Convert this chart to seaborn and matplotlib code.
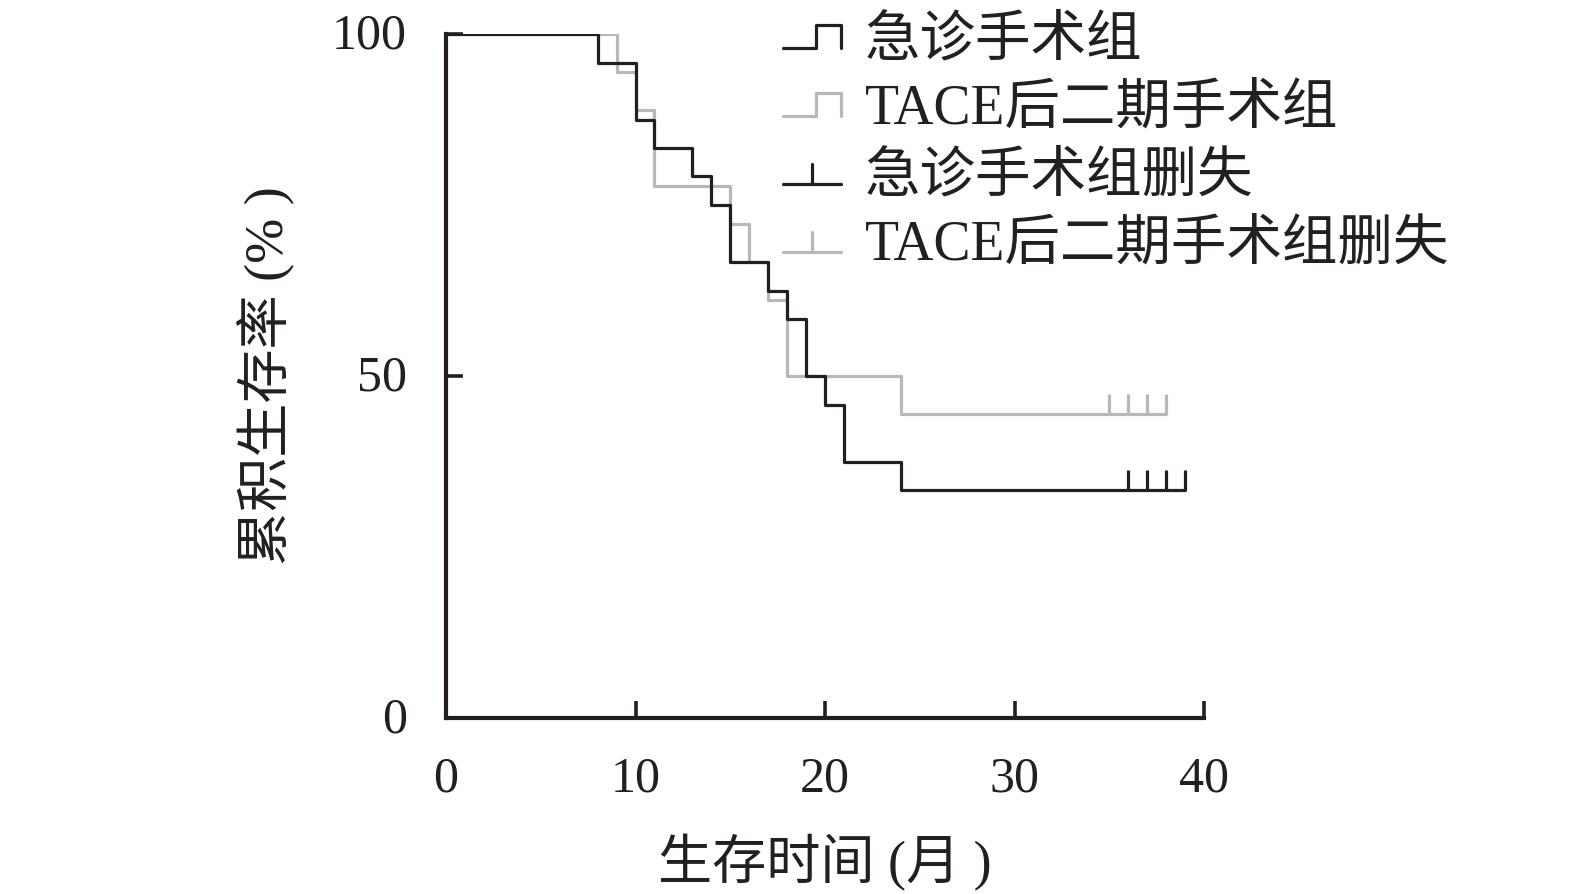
import matplotlib
matplotlib.use("Agg")
import matplotlib.pyplot as plt
import seaborn as sns
import pandas as pd
from matplotlib.legend_handler import HandlerBase
from matplotlib.lines import Line2D
from matplotlib.transforms import ScaledTranslation

# ---- data ----
emergency_times = [0, 8, 10, 11, 13, 14, 15, 17, 18, 19, 20, 21, 24, 39]
emergency_surv = [100, 95.8, 87.5, 83.3, 79.2, 75.0, 66.7, 62.5, 58.3, 50.0, 45.8, 37.5, 33.3, 33.3]
emergency_censor = [36, 37, 38, 39]
tace_times = [0, 9, 10, 11, 15, 16, 17, 18, 24, 38]
tace_surv = [100, 94.4, 88.9, 77.8, 72.2, 66.7, 61.1, 50.0, 44.4, 44.4]
tace_censor = [35, 36, 37, 38]

group_names = ["急诊手术组", "TACE后二期手术组"]
legend_labels = ["急诊手术组", "TACE后二期手术组", "急诊手术组删失", "TACE后二期手术组删失"]
x_ticks = [0, 10, 20, 30, 40]
y_ticks = [0, 50, 100]
x_label = "生存时间 (月 )"
y_label = "累积生存率 (% )"

BLACK = "#231f20"
GRAY = "#b8b8b8"

sns.set_style("white")
FAM = ["Liberation Serif", "Noto Sans CJK SC", "DejaVu Sans"]
plt.rcParams["font.family"] = FAM

df = pd.concat([
    pd.DataFrame({"time": emergency_times, "surv": emergency_surv, "group": group_names[0]}),
    pd.DataFrame({"time": tace_times, "surv": tace_surv, "group": group_names[1]}),
], ignore_index=True)

fig = plt.figure(figsize=(15.75, 8.94), dpi=100)
ax = fig.add_axes([446 / 1575, 1 - 718 / 894, (1204 - 446) / 1575, (718 - 34) / 894])

palette = {group_names[0]: BLACK, group_names[1]: GRAY}
# draw gray first, black on top
for g, z in [(group_names[1], 2), (group_names[0], 3)]:
    sub = df[df["group"] == g]
    sns.lineplot(data=sub, x="time", y="surv", color=palette[g], estimator=None,
                 sort=False, drawstyle="steps-post", linewidth=2.3, ax=ax, zorder=z,
                 legend=False)

def surv_at(times, survs, t):
    v = survs[0]
    for ti, si in zip(times, survs):
        if ti <= t:
            v = si
    return v

tick_h = 3.0
cy = [surv_at(tace_times, tace_surv, t) for t in tace_censor]
ax.vlines(tace_censor, cy, [c + tick_h for c in cy], color=GRAY, linewidth=2.3, zorder=2)
cy = [surv_at(emergency_times, emergency_surv, t) for t in emergency_censor]
ax.vlines(emergency_censor, cy, [c + tick_h for c in cy], color=BLACK, linewidth=2.3, zorder=3)

ax.set_xlim(0, 40)
ax.set_ylim(0, 100)
ax.set_xticks(x_ticks)
ax.set_yticks(y_ticks)
ax.set_xticklabels([str(t) for t in x_ticks])
ax.set_yticklabels([str(t) for t in y_ticks])
for s in ["top", "right"]:
    ax.spines[s].set_visible(False)
for s in ["left", "bottom"]:
    ax.spines[s].set_linewidth(3.0)
    ax.spines[s].set_color(BLACK)
    ax.spines[s].set_zorder(5)
ax.tick_params(axis="both", which="major", bottom=True, left=True, direction="in",
               length=12, width=2.6, color=BLACK, labelsize=36, labelcolor=BLACK)
ax.tick_params(axis="x", pad=27)
ax.tick_params(axis="y", pad=28)
for lab in ax.get_yticklabels():
    lab.set_transform(lab.get_transform() + ScaledTranslation(0, 2 / 72, fig.dpi_scale_trans))
ax.set_xlabel(x_label, fontsize=39, color=BLACK, labelpad=23)
ax.set_ylabel(y_label, fontsize=39, color=BLACK, labelpad=27)
ax.grid(False)


class KMHandler(HandlerBase):
    def __init__(self, color, censor=False):
        super().__init__()
        self.color = color
        self.censor = censor

    def create_artists(self, legend, orig_handle, xdescent, ydescent, width, height,
                       fontsize, trans):
        x0 = -xdescent
        y0 = -ydescent
        lo = y0 + 0.0 * height
        hi = y0 + 0.9 * height
        if not self.censor:
            xs = [x0, x0 + 0.56 * width, x0 + 0.56 * width, x0 + width, x0 + width]
            ys = [lo, lo, hi, hi, lo]
            ln = Line2D(xs, ys, color=self.color, lw=2.3, transform=trans)
            return [ln]
        base = Line2D([x0, x0 + width], [lo, lo], color=self.color, lw=2.3, transform=trans)
        tk = Line2D([x0 + 0.5 * width, x0 + 0.5 * width], [lo, lo + 0.8 * height],
                    color=self.color, lw=2.3, transform=trans)
        return [base, tk]


handles = [Line2D([], [], color=BLACK), Line2D([], [], color=GRAY),
           Line2D([], [], color=BLACK, ls="--"), Line2D([], [], color=GRAY, ls="--")]
hmap = {handles[0]: KMHandler(BLACK), handles[1]: KMHandler(GRAY),
        handles[2]: KMHandler(BLACK, True), handles[3]: KMHandler(GRAY, True)}
leg = fig.legend(handles, legend_labels, handler_map=hmap, loc="upper left",
                 bbox_to_anchor=(772 / 1575, 1 - 4 / 894), frameon=False,
                 fontsize=40, handlelength=1.05, handleheight=0.32, handletextpad=0.42,
                 labelspacing=0.29, borderpad=0.2, borderaxespad=0)
for t in leg.get_texts():
    t.set_color(BLACK)

fig.savefig("out.png", dpi=100)
